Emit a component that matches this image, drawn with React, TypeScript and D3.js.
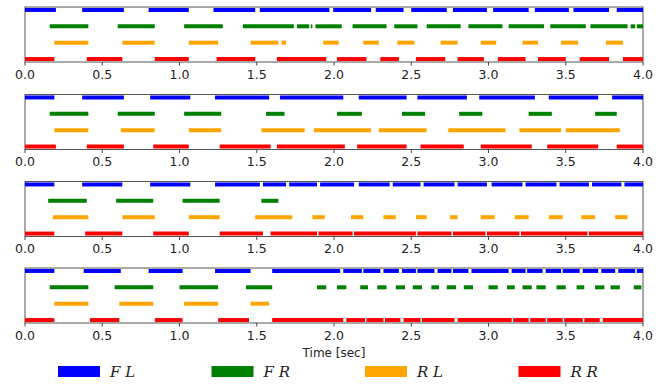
import React from "react";
import * as d3 from "d3";

// gait contact phases, [start, end] in seconds, one array per leg per panel
const p1FL = [[0, 0.2], [0.37, 0.64], [0.8, 1.06], [1.22, 1.49], [1.52, 1.97], [1.995, 2.24], [2.27, 2.45], [2.5, 2.73], [2.77, 2.99], [3.03, 3.26], [3.3, 3.52], [3.55, 3.78], [3.83, 4.0]];
const p1FR = [[0.16, 0.41], [0.6, 0.84], [1.03, 1.28], [1.41, 1.74], [1.76, 1.84], [1.85, 1.86], [1.88, 2.05], [2.12, 2.34], [2.39, 2.54], [2.6, 2.82], [2.87, 3.09], [3.13, 3.36], [3.4, 3.63], [3.66, 3.9], [3.92, 3.95], [3.96, 4.0]];
const p1RL = [[0.19, 0.41], [0.63, 0.84], [1.06, 1.25], [1.46, 1.64], [1.66, 1.69], [1.93, 2.03], [2.19, 2.29], [2.41, 2.52], [2.69, 2.8], [2.95, 3.05], [3.22, 3.32], [3.47, 3.58], [3.76, 3.87]];
const p1RR = [[0, 0.19], [0.4, 0.63], [0.84, 1.06], [1.24, 1.49], [1.63, 1.95], [2.02, 2.21], [2.3, 2.42], [2.53, 2.72], [2.8, 2.97], [3.06, 3.24], [3.32, 3.5], [3.59, 3.78], [3.87, 4.0]];

const p2FL = [[0, 0.19], [0.37, 0.64], [0.81, 1.07], [1.23, 1.58], [1.65, 2.06], [2.16, 2.47], [2.54, 2.86], [2.94, 3.3], [3.39, 3.71], [3.8, 4.0]];
const p2FR = [[0.16, 0.41], [0.6, 0.84], [1.03, 1.27], [1.56, 1.68], [2.02, 2.18], [2.44, 2.59], [2.81, 2.96], [3.26, 3.41], [3.69, 3.83]];
const p2RL = [[0.19, 0.41], [0.62, 0.84], [1.06, 1.27], [1.53, 1.81], [1.87, 2.24], [2.29, 2.6], [2.74, 3.11], [3.2, 3.47], [3.5, 3.85]];
const p2RR = [[0, 0.2], [0.4, 0.64], [0.83, 1.06], [1.26, 1.59], [1.63, 2.07], [2.15, 2.47], [2.56, 2.84], [2.95, 3.28], [3.38, 3.71], [3.83, 4.0]];

const p3FL = [[0, 0.19], [0.37, 0.63], [0.81, 1.07], [1.23, 1.52], [1.54, 1.69], [1.71, 1.89], [1.91, 2.13], [2.16, 2.36], [2.38, 2.56], [2.58, 2.78], [2.8, 2.99], [3.02, 3.22], [3.24, 3.44], [3.46, 3.65], [3.67, 3.86], [3.88, 4.0]];
const p3FR = [[0.15, 0.4], [0.59, 0.83], [1.02, 1.26], [1.53, 1.64]];
const p3RL = [[0.18, 0.41], [0.63, 0.84], [1.06, 1.26], [1.49, 1.73], [1.86, 1.94], [2.11, 2.19], [2.32, 2.4], [2.53, 2.6], [2.75, 2.8], [2.95, 3.04], [3.17, 3.26], [3.39, 3.48], [3.6, 3.69], [3.82, 3.9]];
const p3RR = [[0, 0.19], [0.39, 0.63], [0.83, 1.06], [1.26, 1.54], [1.59, 1.89], [1.9, 2.12], [2.13, 2.53], [2.54, 2.76], [2.77, 2.98], [2.99, 3.2], [3.21, 3.64], [3.65, 4.0]];

const p4FL = [[0, 0.19], [0.38, 0.62], [0.8, 1.02], [1.23, 1.46], [1.6, 2.04], [2.06, 2.18], [2.19, 2.3], [2.32, 2.42], [2.44, 2.53], [2.54, 2.65], [2.67, 2.76], [2.77, 2.87], [2.89, 3.13], [3.15, 3.24], [3.25, 3.35], [3.37, 3.47], [3.48, 3.59], [3.61, 3.71], [3.73, 3.82], [3.84, 3.95], [3.96, 4.0]];
const p4FR = [[0.16, 0.41], [0.58, 0.83], [1.0, 1.25], [1.43, 1.6], [1.89, 1.95], [2.02, 2.08], [2.17, 2.22], [2.28, 2.34], [2.4, 2.46], [2.51, 2.57], [2.63, 2.68], [2.73, 2.79], [2.84, 2.9], [3.0, 3.06], [3.12, 3.17], [3.22, 3.28], [3.31, 3.37], [3.44, 3.5], [3.57, 3.62], [3.69, 3.75], [3.79, 3.85], [3.94, 3.99]];
const p4RL = [[0.19, 0.41], [0.61, 0.83], [1.03, 1.25], [1.46, 1.58]];
const p4RR = [[0, 0.19], [0.42, 0.61], [0.84, 1.02], [1.25, 1.45], [1.6, 2.06], [2.08, 2.2], [2.21, 2.32], [2.33, 2.43], [2.45, 2.56], [2.57, 2.78], [2.8, 3.15], [3.16, 3.26], [3.27, 3.37], [3.38, 3.48], [3.49, 3.61], [3.62, 3.72], [3.74, 4.0]];

const legs = ["FL", "FR", "RL", "RR"];
const legColors = ["blue", "green", "orange", "red"];
const xTicks = [0, 0.5, 1, 1.5, 2, 2.5, 3, 3.5, 4];

const panels = [
  [p1FL, p1FR, p1RL, p1RR],
  [p2FL, p2FR, p2RL, p2RR],
  [p3FL, p3FR, p3RL, p3RR],
  [p4FL, p4FR, p4RL, p4RR],
];

const width = 668;
const height = 385;
const left = 25;
const right = 643;
const panelTops = [7, 94.5, 181.5, 268];
const panelH = 55;

const App = () => {
  const x = d3.scaleLinear().domain([0, 4]).range([left, right]);

  return (
    <svg
      width={width}
      height={height}
      style={{ position: "absolute", left: 0, top: 0, background: "#fff" }}
      fontFamily="DejaVu Sans"
    >
      {panels.map((rows, pi) => {
        const top = panelTops[pi];
        // rows 1..4, FL on top
        const y = d3.scaleLinear().domain([0.82, 4.18]).range([top, top + panelH]);
        return (
          <g key={pi}>
            <rect x={left} y={top} width={right - left} height={panelH} fill="none" stroke="#555" strokeWidth={1} />
            {rows.map((segs, ri) =>
              segs.map((s, si) => (
                <line
                  key={ri + "-" + si}
                  x1={x(s[0])}
                  x2={x(s[1])}
                  y1={y(ri + 1)}
                  y2={y(ri + 1)}
                  stroke={legColors[ri]}
                  strokeWidth={4}
                />
              ))
            )}
            {xTicks.map((t) => (
              <g key={t} transform={`translate(${x(t)},${top + panelH})`}>
                <line y1={0} y2={3.5} stroke="#444" />
                <text y={16.5} textAnchor="middle" fontSize={12.5} fill="#222">
                  {d3.format(".1f")(t)}
                </text>
              </g>
            ))}
          </g>
        );
      })}
      <text x={(left + right) / 2} y={357} textAnchor="middle" fontSize={12} fill="#222">
        Time [sec]
      </text>
      {legs.map((name, i) => (
        <g key={name} transform={`translate(${58 + i * 153.5},366)`}>
          <rect x={0} y={0} width={42} height={11} fill={legColors[i]} />
          <text x={52} y={11} fontSize={15} fontStyle="italic" fontFamily="DejaVu Serif" fill="#222">
            {name.split("").join(" ")}
          </text>
        </g>
      ))}
    </svg>
  );
};

export default App;
